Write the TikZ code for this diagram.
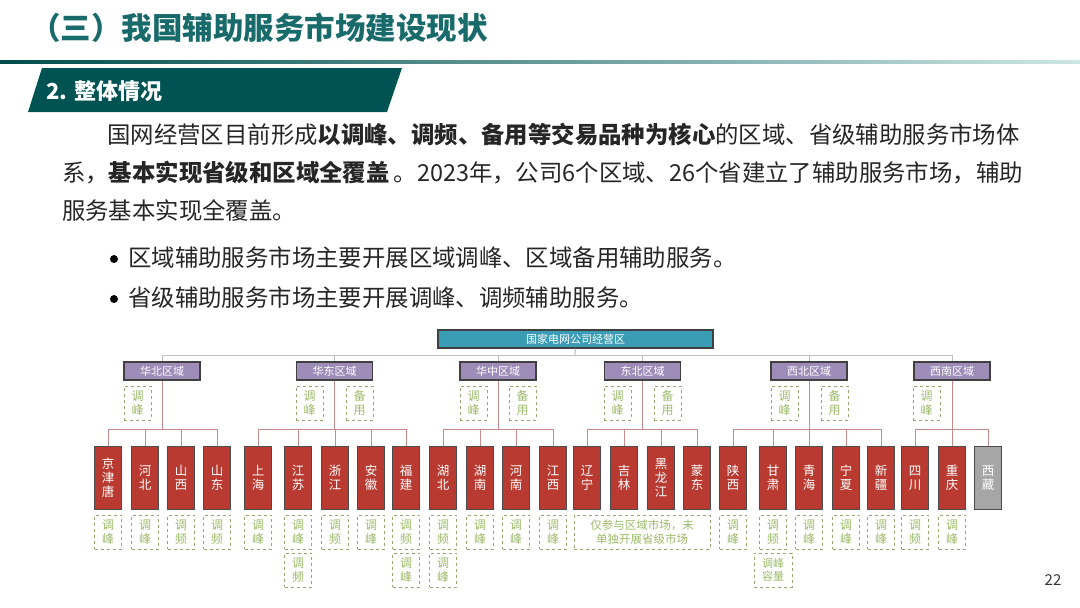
\documentclass[tikz,border=0pt]{standalone}
\usepackage{fontspec}
\setmainfont{Noto Sans CJK SC}
\definecolor{provred}{HTML}{B93A30}
\definecolor{regpur}{HTML}{9D8CB8}
\definecolor{topc}{HTML}{3B9DB5}
\definecolor{subg}{HTML}{9DBB6A}
\definecolor{lnc}{HTML}{C98A8A}
\begin{document}
\begin{tikzpicture}[x=1pt,y=-1pt,
  prov/.style={draw=black!70,fill=provred,text=white,minimum width=27pt,minimum height=63pt,inner sep=0pt,font=\fontsize{12.5}{14}\selectfont,align=center,line width=1pt},
  gprov/.style={prov,fill=gray!70},
  reg/.style={draw=black!75,fill=regpur,text=white,minimum width=76pt,minimum height=18pt,inner sep=0pt,font=\fontsize{11}{12}\selectfont,line width=1.2pt},
  sub/.style={draw=subg!70!gray,dashed,line width=0.8pt,text=subg,minimum width=27pt,minimum height=34pt,inner sep=0pt,font=\fontsize{12}{14}\selectfont,align=center},
  ln/.style={draw=lnc,line width=1pt},
  body/.style={anchor=west,inner sep=0pt,font=\fontsize{23.4}{28}\selectfont,text=black!85}]
\useasboundingbox (0,0) rectangle (1080,608);
\fill[white] (0,0) rectangle (1080,608);
\node[anchor=west,inner sep=0pt,text=teal!70!black!90,font=\fontsize{30.5}{35}\bfseries\selectfont] (title) at (30,28) {（三）我国辅助服务市场建设现状};
\shade[left color=teal!60!black,right color=teal!20!white] (0,60) rectangle (1080,63.5);
\fill[teal!65!black] (42,68) -- (402,68) -- (387,112) -- (28,112) -- cycle;
\node[anchor=west,inner sep=0pt,text=white,font=\fontsize{22}{24}\bfseries\selectfont] (sec) at (46,91) {2. 整体情况};
\node[body] (l1) at (107,135) {国网经营区目前形成\textbf{以调峰、调频、备用等交易品种为核心}的区域、省级辅助服务市场体};
\node[body] (l2) at (62,173) {系，\textbf{基本实现省级和区域全覆盖\,}。2023年，公司6个区域、26个省建立了辅助服务市场，辅助};
\node[body] (l3) at (62,211) {服务基本实现全覆盖。};
\node[body] (b1) at (128,258) {区域辅助服务市场主要开展区域调峰、区域备用辅助服务。};
\node[body] (b2) at (128,298) {省级辅助服务市场主要开展调峰、调频辅助服务。};
\fill[black] (114,259) circle (4);
\fill[black] (114,299) circle (4);
\node[font=\fontsize{15}{18}\selectfont,text=black!80] (pg) at (1053,580) {22};
\node[draw=black!75,fill=topc,text=white,minimum width=275pt,minimum height=18pt,inner sep=0pt,font=\fontsize{11}{12}\selectfont,line width=1.2pt] (top) at (575.5,339) {国家电网公司经营区};
\coordinate (hb) at (575,355);
\draw[gray!50,line width=1pt] (top.south) -- (hb);
\draw[gray!50,line width=1pt] (162,355) -- (952,355);
\foreach \n/\t/\x in {r1/华北区域/162,r2/华东区域/334.5,r3/华中区域/498,r4/东北区域/642.5,r5/西北区域/809,r6/西南区域/952}{
  \draw[gray!50,line width=1pt] (\x,355) -- (\x,362);
  \node[reg] (\n) at (\x,371) {\t};
}
\node[sub] (s1) at (137.5,403) {调\\峰};
\node[sub] (s2a) at (309.5,403) {调\\峰};
\node[sub] (s2b) at (359.5,403) {备\\用};
\node[sub] (s3a) at (473.5,403) {调\\峰};
\node[sub] (s3b) at (522.5,403) {备\\用};
\node[sub] (s4a) at (617.5,403) {调\\峰};
\node[sub] (s4b) at (667.5,403) {备\\用};
\node[sub] (s5a) at (784.5,403) {调\\峰};
\node[sub] (s5b) at (834.5,403) {备\\用};
\node[sub] (s6a) at (926.5,403) {调\\峰};
\foreach \n/\t/\x in {p1/京\\津\\唐/108,p2/河\\北/145,p3/山\\西/181,p4/山\\东/217,p5/上\\海/258,p6/江\\苏/298,p7/浙\\江/335,p8/安\\徽/371,p9/福\\建/406,p10/湖\\北/443,p11/湖\\南/480,p12/河\\南/516,p13/江\\西/553,p14/辽\\宁/587,p15/吉\\林/624,p16/黑\\龙\\江/661,p17/蒙\\东/697,p18/陕\\西/733,p19/甘\\肃/773,p20/青\\海/809,p21/宁\\夏/846,p22/新\\疆/881,p23/四\\川/915,p24/重\\庆/952}{
  \node[prov] (\n) at (\x,478) {\t};
}
\node[gprov] (p25) at (988,478) {西\\藏};
\foreach \r/\a/\b in {r1/p1/p4,r2/p5/p9,r3/p10/p13,r4/p14/p17,r5/p18/p22,r6/p23/p25}{
  \draw[ln] (\r.south) -- (\r.south |- 0,429);
  \draw[ln] (\a.north) -- (\a.north |- 0,429) -- (\b.north |- 0,429) -- (\b.north);
}
\foreach \p in {p2,p3,p6,p7,p8,p11,p12,p15,p16,p19,p20,p21,p24}{
  \draw[ln] (\p.north) -- (\p.north |- 0,429);
}
\foreach \n/\t/\x in {q1/调\\峰/108,q2/调\\峰/145,q3/调\\频/181,q4/调\\频/217,q5/调\\峰/258,q6/调\\峰/298,q7/调\\频/335,q8/调\\峰/371,q9/调\\频/406,q10/调\\频/443,q11/调\\峰/480,q12/调\\峰/516,q13/调\\峰/553,q18/调\\峰/733,q19/调\\频/773,q20/调\\峰/809,q21/调\\峰/846,q22/调\\峰/881,q23/调\\频/915,q24/调\\峰/952}{
  \node[sub] (\n) at (\x,532) {\t};
}
\node[sub] (u6) at (298,570) {调\\频};
\node[sub] (u9) at (406,570) {调\\峰};
\node[sub] (u10) at (443,570) {调\\峰};
\node[sub,minimum width=38pt,font=\fontsize{11}{13}\selectfont] (u19) at (773,570) {调峰\\容量};
\node[sub,minimum width=136pt,font=\fontsize{11.5}{14}\selectfont] (q14) at (642,532) {仅参与区域市场，未\\单独开展省级市场};
\end{tikzpicture}
\end{document}
